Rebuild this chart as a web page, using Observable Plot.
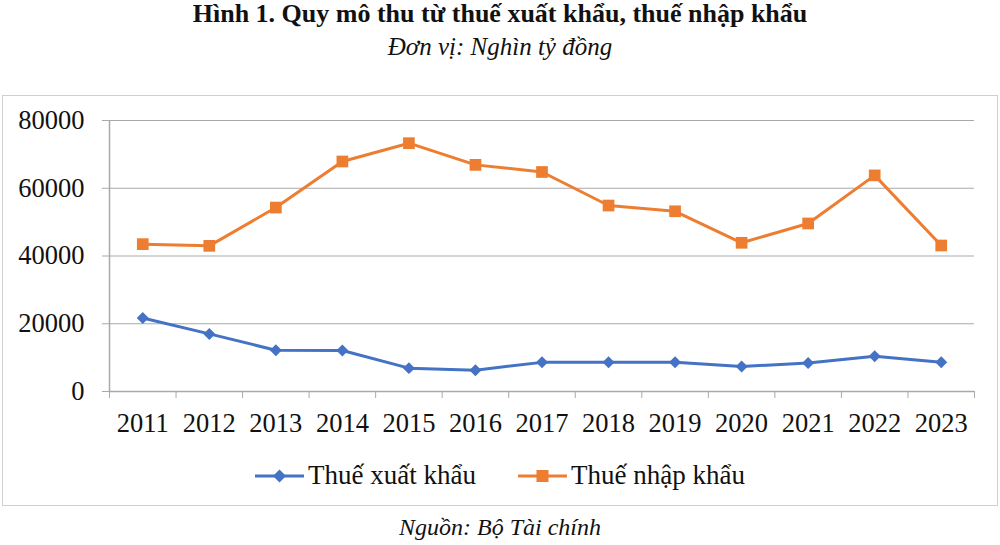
<!DOCTYPE html>
<html>
<head>
<meta charset="utf-8">
<script src="https://cdn.jsdelivr.net/npm/d3@7"></script>
<script src="https://cdn.jsdelivr.net/npm/@observablehq/plot@0.6"></script>
<style>
  body { margin: 0; background: #fff; font-family: "Liberation Serif", serif; }
  #page { width: 1000px; height: 545px; position: relative; }
  #title { position: absolute; top: 0px; left: 0; width: 1000px; text-align: center; font-weight: bold; font-size: 26px; line-height: 28px; color: #111; }
  #subtitle { position: absolute; top: 33px; left: 0; width: 1000px; text-align: center; font-style: italic; font-size: 25px; line-height: 27px; color: #111; }
  #box { position: absolute; top: 95px; left: 2px; width: 994px; height: 409px; border: 1px solid #d0d0d0; }
  #legend { position: absolute; top: 364px; left: 0; width: 994px; display: flex; justify-content: center; gap: 42px; font-size: 27px; color: #111; }
  .item { display: flex; align-items: center; gap: 4px; }
  #caption { position: absolute; top: 513px; left: 0; width: 1000px; text-align: center; font-style: italic; font-size: 24px; line-height: 28px; color: #111; }
</style>
</head>
<body>
<div id="page">
  <div id="title">Hình 1. Quy mô thu từ thuế xuất khẩu, thuế nhập khẩu</div>
  <div id="subtitle">Đơn vị: Nghìn tỷ đồng</div>
  <div id="box">
    <div id="chart"></div>
    <div id="legend"></div>
  </div>
  <div id="caption">Nguồn: Bộ Tài chính</div>
</div>
<script>
const years = [2011, 2012, 2013, 2014, 2015, 2016, 2017, 2018, 2019, 2020, 2021, 2022, 2023];
const thueXuatKhau = [21700, 17000, 12200, 12100, 6900, 6300, 8600, 8600, 8600, 7400, 8400, 10400, 8600];
const thueNhapKhau = [43500, 43000, 54300, 67900, 73300, 66900, 64800, 54900, 53200, 43900, 49600, 63800, 43100];
const yTicks = [0, 20000, 40000, 60000, 80000];
const seriesNames = ["Thuế xuất khẩu", "Thuế nhập khẩu"];
const seriesColors = ["#4472C4", "#ED7D31"];

const xk = years.map((year, i) => ({year, value: thueXuatKhau[i]}));
const nk = years.map((year, i) => ({year, value: thueNhapKhau[i]}));
const boundaries = years.map(y => y - 0.5).concat([years[years.length - 1] + 0.5]);
const grid = "#a9a9a9";

const chart = Plot.plot({
  width: 994,
  height: 350,
  marginLeft: 106,
  marginRight: 23,
  marginTop: 24,
  marginBottom: 55,
  style: {fontFamily: "Liberation Serif, serif", color: "#111", background: "transparent"},
  x: {type: "linear", domain: [boundaries[0], boundaries[boundaries.length - 1]]},
  y: {domain: [0, 80000]},
  marks: [
    Plot.gridY(yTicks.filter(d => d > 0), {stroke: grid, strokeOpacity: 1, strokeWidth: 1.2}),
    Plot.ruleY([0], {stroke: grid, strokeWidth: 1.5}),
    Plot.ruleX([boundaries[0]], {stroke: grid, strokeWidth: 1.5}),
    Plot.axisY({ticks: yTicks, tickSize: 7, tickPadding: 18, fontSize: 26.5, stroke: grid, fill: "#111", tickFormat: d => String(d), label: null}),
    Plot.axisX({ticks: boundaries, tickSize: 7, stroke: grid, tickFormat: () => "", label: null}),
    Plot.axisX({ticks: years, tickSize: 0, tickPadding: 22, fontSize: 26.5, fill: "#111", tickFormat: d => String(d), label: null}),
    Plot.line(nk, {x: "year", y: "value", stroke: seriesColors[1], strokeWidth: 3}),
    Plot.line(xk, {x: "year", y: "value", stroke: seriesColors[0], strokeWidth: 3}),
    Plot.dot(nk, {x: "year", y: "value", symbol: "square", r: 6.6, fill: seriesColors[1], stroke: "none"}),
    Plot.dot(xk, {x: "year", y: "value", symbol: "diamond2", r: 5.4, fill: seriesColors[0], stroke: "none"})
  ]
});
document.getElementById("chart").appendChild(chart);

const legend = document.getElementById("legend");
seriesNames.forEach((name, i) => {
  const item = document.createElement("div");
  item.className = "item";
  const sym = i === 0
    ? `<path d="M24.5,1.5 L31,8 L24.5,14.5 L18,8 Z" fill="${seriesColors[i]}"/>`
    : `<rect x="18.5" y="2" width="12" height="12" fill="${seriesColors[i]}"/>`;
  item.innerHTML = `<svg width="49" height="16"><line x1="0" y1="8" x2="49" y2="8" stroke="${seriesColors[i]}" stroke-width="3"/>${sym}</svg><span>${name}</span>`;
  legend.appendChild(item);
});
</script>
</body>
</html>
